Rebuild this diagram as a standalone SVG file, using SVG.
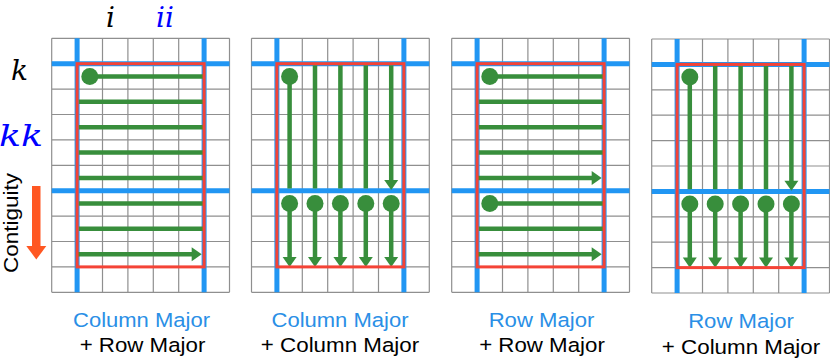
<svg xmlns="http://www.w3.org/2000/svg" xmlns:xlink="http://www.w3.org/1999/xlink" width="830" height="359" viewBox="0 0 830 359">
<style>
.grid{fill:none;stroke:#8f8f8f;stroke-width:1.2}
.blue{fill:none;stroke:#2196f3;stroke-width:5}
.red{fill:none;stroke:#f44336;stroke-width:3}
.g{fill:none;stroke:#388e3c;stroke-width:4.5}
.gf{fill:#388e3c}
.lab{font-family:"Liberation Sans",Arial,sans-serif;font-size:20.5px;text-anchor:middle}
.lb{fill:#2a8fe6}
.lk{fill:#000}
.math{font-family:"DejaVu Serif",serif;font-style:italic}
</style>
<defs>
<g id="gridbase">
<rect x="0" y="0" width="177.8" height="254" fill="#fff"/>
<path class="grid" d="M0 0V254M25.4 0V254M50.8 0V254M76.2 0V254M101.6 0V254M127 0V254M152.4 0V254M177.8 0V254M0 0H177.8M0 25.4H177.8M0 50.8H177.8M0 76.2H177.8M0 101.6H177.8M0 127H177.8M0 152.4H177.8M0 177.8H177.8M0 203.2H177.8M0 228.6H177.8M0 254H177.8"/>
<path class="blue" d="M25.4 0V254M152.4 0V254M0 25.4H177.8M0 152.4H177.8"/>
</g>
<g id="cols">
<path class="g" d="M38.1 38.1V150.3M63.5 27V150.3M88.9 27V150.3M114.3 27V150.3M139.7 27V142"/>
<polygon class="gf" points="139.7,151.7 132.7,141.7 146.7,141.7"/>
<circle class="gf" cx="38.1" cy="38.1" r="8.5"/>
<path class="g" d="M38.1 165.1V219M63.5 165.1V219M88.9 165.1V219M114.3 165.1V219M139.7 165.1V219"/>
<g class="gf">
<circle cx="38.1" cy="165.1" r="8.5"/><circle cx="63.5" cy="165.1" r="8.5"/><circle cx="88.9" cy="165.1" r="8.5"/><circle cx="114.3" cy="165.1" r="8.5"/><circle cx="139.7" cy="165.1" r="8.5"/>
<polygon points="38.1,228.8 31.1,218.6 45.1,218.6"/><polygon points="63.5,228.8 56.5,218.6 70.5,218.6"/><polygon points="88.9,228.8 81.9,218.6 95.9,218.6"/><polygon points="114.3,228.8 107.3,218.6 121.3,218.6"/><polygon points="139.7,228.8 132.7,218.6 146.7,218.6"/>
</g>
<rect class="red" x="25.4" y="25.4" width="127" height="203.2"/>
</g>
</defs>

<g id="labels-axes">
<text class="math" x="106" y="27" font-size="28">i</text>
<text class="math" x="156" y="27" font-size="28" fill="#0000ff">ii</text>
<text class="math" x="11" y="80" font-size="28">k</text>
<text class="math" x="-1" y="146" font-size="30" fill="#0000ff" textLength="44" lengthAdjust="spacingAndGlyphs">kk</text>
</g>

<g id="contiguity">
<text class="lab lk" style="font-size:19.5px" transform="translate(17.5,223) rotate(-90)" textLength="100" lengthAdjust="spacingAndGlyphs">Contiguity</text>
<rect x="32" y="186" width="8.5" height="61" fill="#ff5722"/>
<polygon points="26.3,246 46.3,246 36.3,259.5" fill="#ff5722"/>
</g>

<g id="panel1" transform="translate(51.7,38.3)">
<use xlink:href="#gridbase"/>
<g id="conn1">
<path class="g" d="M38.1 38.1H151.5M27 63.5H151.5M27 88.9H151.5M27 114.3H151.5M27 139.7H151.5M27 165.1H151.5M27 190.5H151.5M26 215.9H141"/>
<polygon class="gf" points="150,215.9 140,208.9 140,222.9"/>
<circle class="gf" cx="38.1" cy="38.1" r="8.5"/>
</g>
<rect class="red" x="25.4" y="25.4" width="127" height="203.2"/>
</g>

<g id="panel2" transform="translate(251.5,38.3)">
<use xlink:href="#gridbase"/>
<use xlink:href="#cols"/>
</g>

<g id="panel3" transform="translate(451.7,38.3)">
<use xlink:href="#gridbase"/>
<g id="conn3">
<path class="g" d="M38.1 38.1H152M27 63.5H152M27 88.9H152M27 114.3H152M26 139.7H141M38.1 165.1H152M27 190.5H152M26 215.9H141"/>
<g class="gf">
<polygon points="150,139.7 140,132.7 140,146.7"/>
<polygon points="150,215.9 140,208.9 140,222.9"/>
<circle cx="38.1" cy="38.1" r="8.5"/>
<circle cx="38.1" cy="165.1" r="8.5"/>
</g>
</g>
<rect class="red" x="25.4" y="25.4" width="127" height="203.2"/>
</g>

<g id="panel4" transform="translate(651.7,39)">
<use xlink:href="#gridbase"/>
<use xlink:href="#cols"/>
</g>

<g id="captions">
<text class="lab lb" x="141.5" y="326.7" textLength="137" lengthAdjust="spacingAndGlyphs">Column Major</text>
<text class="lab lk" x="142.5" y="351.7" textLength="125.7" lengthAdjust="spacingAndGlyphs">+ Row Major</text>
<text class="lab lb" x="340" y="326.7" textLength="137" lengthAdjust="spacingAndGlyphs">Column Major</text>
<text class="lab lk" x="340" y="351.7" textLength="158.3" lengthAdjust="spacingAndGlyphs">+ Column Major</text>
<text class="lab lb" x="541.5" y="326.7" textLength="105.7" lengthAdjust="spacingAndGlyphs">Row Major</text>
<text class="lab lk" x="542" y="351.7" textLength="125.7" lengthAdjust="spacingAndGlyphs">+ Row Major</text>
<text class="lab lb" x="741" y="328.3" textLength="105.7" lengthAdjust="spacingAndGlyphs">Row Major</text>
<text class="lab lk" x="741" y="354" textLength="158.3" lengthAdjust="spacingAndGlyphs">+ Column Major</text>
</g>
</svg>
